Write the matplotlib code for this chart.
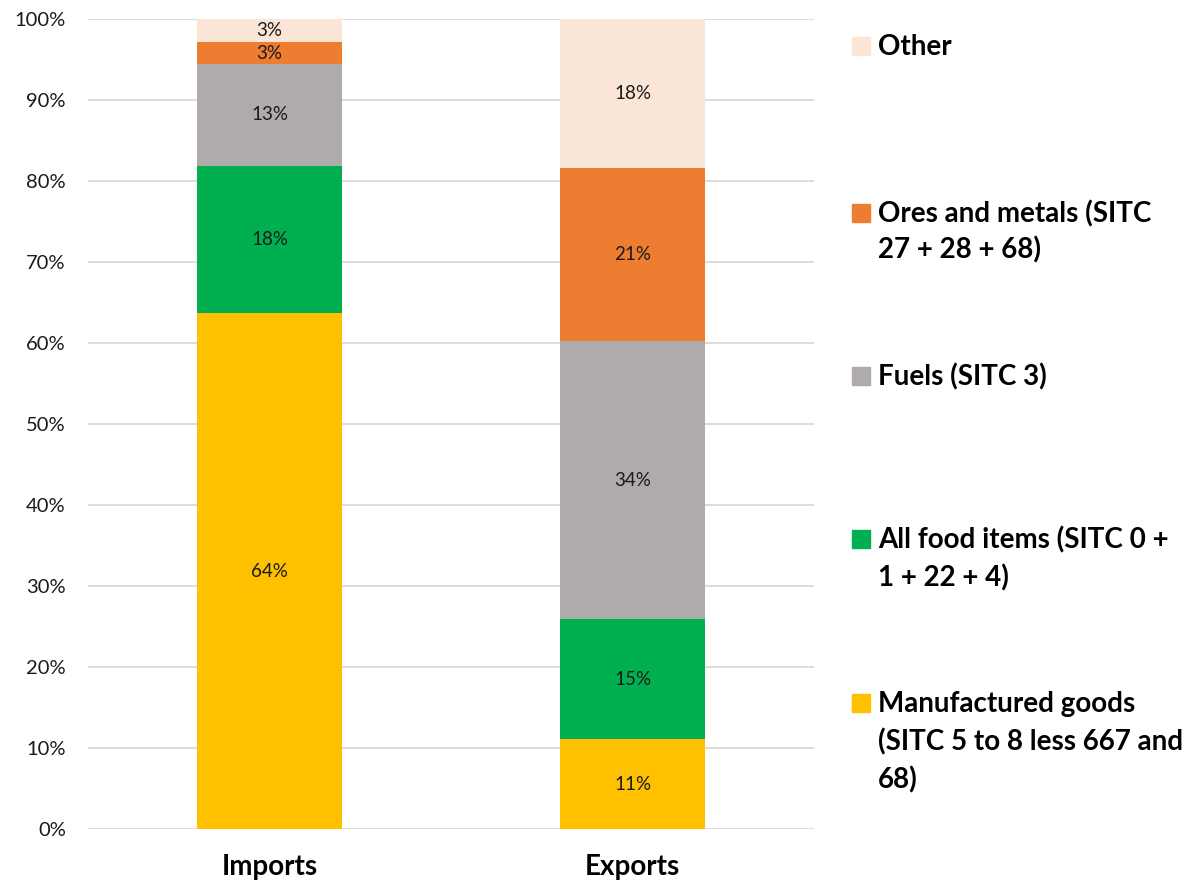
import matplotlib
matplotlib.use("Agg")
import matplotlib.pyplot as plt
from matplotlib.patches import Rectangle
import numpy as np

plt.rcParams['font.family'] = ['Lato', 'DejaVu Sans']

categories = ["Imports", "Exports"]
series_names = [
    "Manufactured goods\n(SITC 5 to 8 less 667 and\n68)",
    "All food items (SITC 0 +\n1 + 22 + 4)",
    "Fuels (SITC 3)",
    "Ores and metals (SITC\n27 + 28 + 68)",
    "Other",
]
manufactured = [63.7, 11.1]
food = [18.2, 14.8]
fuels = [12.6, 34.3]
ores = [2.6, 21.4]
other = [2.9, 18.4]
series_values = [manufactured, food, fuels, ores, other]
colors = ["#FFC000", "#00B050", "#AFABAB", "#ED7D31", "#FBE5D6"]
y_ticks = [0, 10, 20, 30, 40, 50, 60, 70, 80, 90, 100]

W, H = 1199, 884
fig = plt.figure(figsize=(W / 100, H / 100), dpi=100)
ax = fig.add_axes([88 / W, 1 - 829 / H, (814 - 88) / W, (829 - 19) / H])

x = np.arange(len(categories))
bottom = np.zeros(len(categories))
for vals, col in zip(series_values, colors):
    vals = np.array(vals, dtype=float)
    ax.bar(x, vals, width=0.4, bottom=bottom, color=col, zorder=2)
    for xi, b, v in zip(x, bottom, vals):
        ax.text(xi, b + v / 2, f"{v:.0f}%", ha="center", va="center",
                fontsize=13.5, color="#1a1a1a", zorder=3)
    bottom += vals

ax.set_xlim(-0.5, 1.5)
ax.set_ylim(0, 100)
ax.set_yticks(y_ticks)
ax.set_yticklabels([f"{t}%" for t in y_ticks], fontsize=14.5, color="#1a1a1a")
ax.set_xticks(x)
ax.set_xticklabels(categories, fontsize=20, fontweight="bold", color="#000000")
ax.tick_params(axis="both", length=0)
ax.tick_params(axis="x", pad=18)
ax.tick_params(axis="y", pad=16)
ax.yaxis.grid(True, color="#d9d9d9", linewidth=1.3, zorder=0)
ax.set_axisbelow(True)
for s in ax.spines.values():
    s.set_visible(False)

# Legend drawn on the figure, top entry first; one text per line
legend_rows = [
    (series_names[4], colors[4], [45]),
    (series_names[3], colors[3], [212, 248]),
    (series_names[2], colors[2], [375]),
    (series_names[1], colors[1], [538, 576]),
    (series_names[0], colors[0], [702, 740, 778]),
]
sq = 18
for label, col, ys in legend_rows:
    fig.add_artist(Rectangle((852 / W, 1 - (ys[0] + 1 + sq / 2) / H), sq / W, sq / H,
                             transform=fig.transFigure, color=col))
    for line, ypix in zip(label.split("\n"), ys):
        fig.text(878 / W, 1 - (ypix + 10) / H, line, ha="left", va="baseline",
                 fontsize=20, fontweight="bold", color="#000000")

fig.savefig("out.png", dpi=100)
